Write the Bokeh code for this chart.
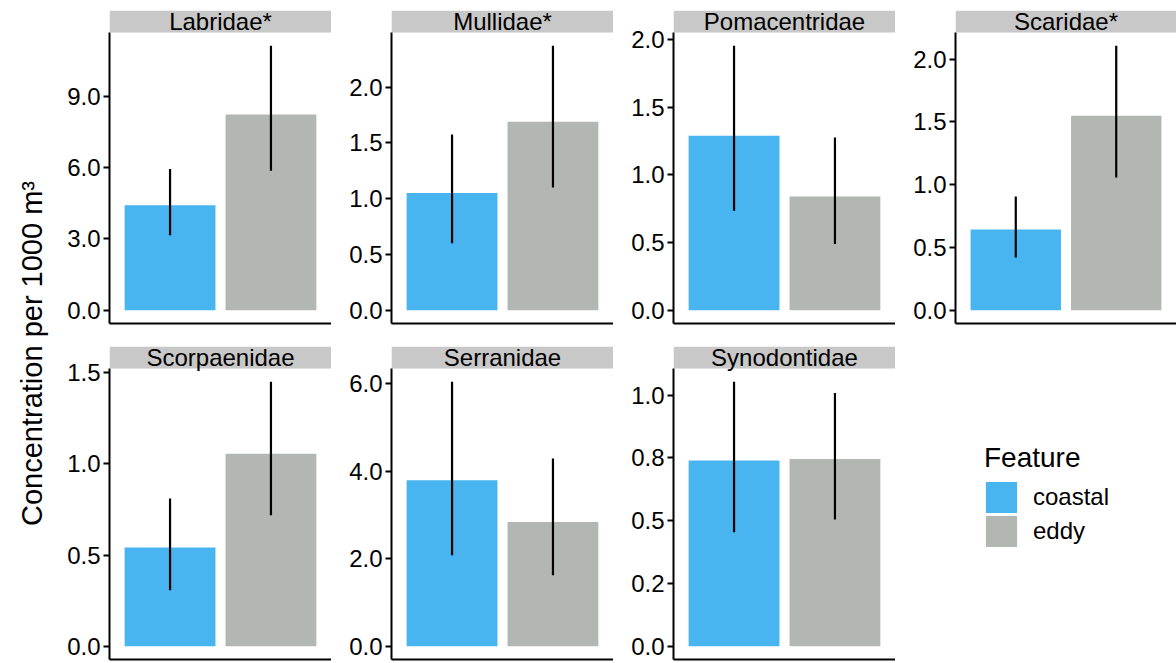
import math

from bokeh.core.properties import value
from bokeh.embed import file_html
from bokeh.layouts import column, row
from bokeh.models import (ColumnDataSource, FixedTicker, Label, Legend,
                          LegendItem, Range1d)
from bokeh.plotting import figure
from bokeh.resources import INLINE

# Larval fish concentration (per 1000 m^3) by family and water feature,
# with the mean and the lower/upper limits of each error bar.
families = ["Labridae*", "Mullidae*", "Pomacentridae", "Scaridae*",
            "Scorpaenidae", "Serranidae", "Synodontidae"]
features = ["coastal", "eddy"]

coastal_mean = [4.42, 1.05, 1.29, 0.643, 0.542, 3.79, 0.739]
coastal_lower = [3.16, 0.60, 0.735, 0.42, 0.307, 2.08, 0.454]
coastal_upper = [5.94, 1.575, 1.955, 0.906, 0.811, 6.04, 1.053]

eddy_mean = [8.24, 1.69, 0.84, 1.548, 1.056, 2.84, 0.745]
eddy_lower = [5.87, 1.10, 0.49, 1.057, 0.719, 1.62, 0.505]
eddy_upper = [11.13, 2.37, 1.277, 2.106, 1.451, 4.29, 1.008]

tick_values = [
    [0.0, 3.0, 6.0, 9.0],
    [0.0, 0.5, 1.0, 1.5, 2.0],
    [0.0, 0.5, 1.0, 1.5, 2.0],
    [0.0, 0.5, 1.0, 1.5, 2.0],
    [0.0, 0.5, 1.0, 1.5],
    [0.0, 2.0, 4.0, 6.0],
    [0.0, 0.25, 0.5, 0.75, 1.0],
]
tick_labels = [
    ["0.0", "3.0", "6.0", "9.0"],
    ["0.0", "0.5", "1.0", "1.5", "2.0"],
    ["0.0", "0.5", "1.0", "1.5", "2.0"],
    ["0.0", "0.5", "1.0", "1.5", "2.0"],
    ["0.0", "0.5", "1.0", "1.5"],
    ["0.0", "2.0", "4.0", "6.0"],
    ["0.0", "0.2", "0.5", "0.8", "1.0"],
]

FONT = "Liberation Sans"
FILL = {"coastal": "#48B5F0", "eddy": "#B3B7B4"}
STRIP_FILL = "#C8C8C8"
PANEL_H = 291   # plotting panel height in px
STRIP_H = 22    # facet strip height in px
LEFT = 60       # room for tick labels


def family_source(i):
    return ColumnDataSource(dict(
        x=[1, 2],
        top=[coastal_mean[i], eddy_mean[i]],
        lower=[coastal_lower[i], eddy_lower[i]],
        upper=[coastal_upper[i], eddy_upper[i]],
        color=[FILL[f] for f in features],
        feature=features,
    ))


def make_panel(i, width, height, top, bottom):
    ymax = max(coastal_upper[i], eddy_upper[i])
    lo, hi = -0.05 * ymax, 1.05 * ymax
    strip_top = hi + STRIP_H / PANEL_H * (hi - lo)

    p = figure(width=width, height=height,
               x_range=Range1d(0.4, 2.6), y_range=Range1d(lo, strip_top),
               output_backend="svg", toolbar_location=None,
               min_border_left=LEFT, min_border_right=0,
               min_border_top=top, min_border_bottom=bottom)
    p.outline_line_color = None
    p.xgrid.visible = False
    p.ygrid.visible = False

    src = family_source(i)
    p.vbar(x="x", top="top", bottom=0, width=0.9, fill_color="color",
           line_color=None, source=src)
    p.segment(x0="x", y0="lower", x1="x", y1="upper", line_color="black",
              line_width=2.2, source=src)

    # facet strip with family name
    p.quad(left=[0.4], right=[2.6], bottom=[hi], top=[strip_top],
           fill_color=STRIP_FILL, line_color=None)
    p.text(x=[1.5], y=[(hi + strip_top) / 2], text=[families[i]],
           text_align="center", text_baseline="middle",
           text_font=value(FONT), text_font_size="24px", text_color="black")

    ya = p.yaxis[0]
    ya.bounds = (lo, hi)
    ya.ticker = FixedTicker(ticks=tick_values[i])
    ya.major_label_overrides = {v: s for v, s in zip(tick_values[i], tick_labels[i])}
    ya.axis_line_width = 2
    ya.axis_line_color = "black"
    ya.major_tick_line_width = 2
    ya.major_tick_line_color = "black"
    ya.major_tick_out = 6
    ya.major_tick_in = 0
    ya.minor_tick_out = 0
    ya.minor_tick_in = 0
    ya.major_label_standoff = 3
    ya.major_label_text_font = FONT
    ya.major_label_text_font_size = "24px"
    ya.major_label_text_color = "black"

    xa = p.xaxis[0]
    xa.ticker = FixedTicker(ticks=[])
    xa.axis_line_width = 2
    xa.axis_line_color = "black"
    xa.major_tick_out = 0
    xa.major_tick_in = 0
    xa.minor_tick_out = 0
    xa.minor_tick_in = 0
    xa.major_label_standoff = 0
    xa.major_label_text_font_size = "0px"
    return p


row1 = [make_panel(i, w, 336, 10, 13)
        for i, w in zip(range(4), [282, 282, 282, 281])]
row2 = [make_panel(i, 282, 327, 10, 4) for i in range(4, 7)]

# legend panel: a hidden copy of the bar renderer supplies the key swatches
key_fig = figure(width=281, height=327, x_range=Range1d(0.4, 2.6),
                 y_range=Range1d(0, 1), x_axis_type=None, y_axis_type=None,
                 output_backend="svg", toolbar_location=None,
                 min_border_left=0, min_border_right=0,
                 min_border_top=0, min_border_bottom=0)
key_fig.outline_line_color = None
key_fig.xgrid.visible = False
key_fig.ygrid.visible = False
key_bars = key_fig.vbar(x="x", top="top", bottom=0, width=0.9,
                        fill_color="color", line_color="color", line_width=4,
                        line_join="miter", source=family_source(6),
                        visible=False)
legend = Legend(
    items=[LegendItem(label=f, renderers=[key_bars], index=k)
           for k, f in enumerate(features)],
    title="Feature", location=(89, 111),
    padding=0, margin=0, spacing=0,
    glyph_width=34, glyph_height=34, label_standoff=15,
    title_standoff=6,
    border_line_color=None, background_fill_alpha=0,
    title_text_font=FONT, title_text_font_size="28px",
    title_text_font_style="normal", title_text_color="black",
    label_text_font=FONT, label_text_font_size="24px",
    label_text_color="black",
)
key_fig.add_layout(legend)
row2.append(key_fig)

# shared y-axis title
title_fig = figure(width=49, height=663, x_range=Range1d(0, 1),
                   y_range=Range1d(0, 1), x_axis_type=None, y_axis_type=None,
                   output_backend="svg", toolbar_location=None,
                   min_border_left=0, min_border_right=0,
                   min_border_top=0, min_border_bottom=0)
title_fig.outline_line_color = None
title_fig.xgrid.visible = False
title_fig.ygrid.visible = False
title_fig.add_layout(Label(
    x=31, y=310, x_units="screen", y_units="screen",
    text="Concentration per 1000 m³", angle=math.pi / 2,
    text_align="center", text_baseline="middle",
    text_font=FONT, text_font_size="29px", text_color="black"))

layout = row(title_fig, column(row(*row1), row(*row2)))

open("out.html", "w").write(file_html(layout, INLINE))
